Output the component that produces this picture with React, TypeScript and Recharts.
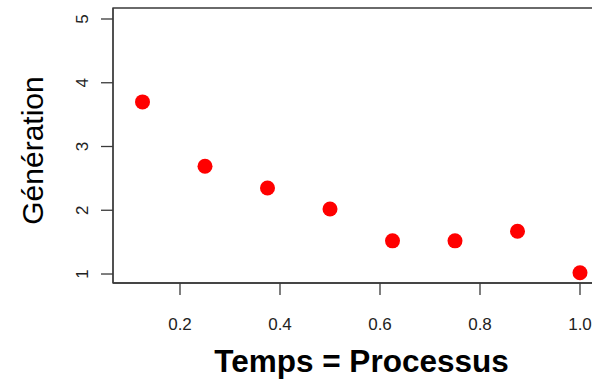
import React from "react";
import { ScatterChart, Scatter, XAxis, YAxis, ReferenceArea, Label } from "recharts";

const temps = [0.125, 0.25, 0.375, 0.5, 0.625, 0.75, 0.875, 1.0];
const generation = [3.7, 2.69, 2.35, 2.02, 1.52, 1.52, 1.67, 1.02];
const xTicks = [0.2, 0.4, 0.6, 0.8, 1.0];
const yTicks = [1, 2, 3, 4, 5];
const xDomain = [0.066, 1.06];
const yDomain = [0.859, 5.1725];

const data = temps.map((t, i) => ({ x: t, y: generation[i] }));

const axisColor = "#3a3a3a";
const font = "'Liberation Sans', Arial, sans-serif";

const XTick = (props: any) => {
  const { x, y, payload } = props;
  return (
    <text x={x} y={y + 35} textAnchor="middle" fontSize={17} fontFamily={font} fill="#222">
      {Number(payload.value).toFixed(1)}
    </text>
  );
};

const YTick = (props: any) => {
  const { x, y, payload } = props;
  const bx = x - 13;
  return (
    <text x={bx} y={y} textAnchor="middle" fontSize={17} fontFamily={font} fill="#222" transform={`rotate(-90, ${bx}, ${y})`}>
      {payload.value}
    </text>
  );
};

const Dot = (props: any) => {
  const { cx, cy } = props;
  return <circle cx={cx} cy={cy} r={7.5} fill="#ff0000" />;
};

const XTitle = (props: any) => {
  const { viewBox } = props;
  const cx = viewBox.x + viewBox.width / 2;
  return (
    <text x={cx} y={372} textAnchor="middle" fontSize={31.5} fontWeight="bold" fontFamily={font} fill="#000">
      Temps = Processus
    </text>
  );
};

const YTitle = (props: any) => {
  const { viewBox } = props;
  const cy = viewBox.y + viewBox.height / 2 + 5;
  const bx = 43;
  return (
    <text x={bx} y={cy} textAnchor="middle" fontSize={30} fontFamily={font} fill="#000" transform={`rotate(-90, ${bx}, ${cy})`}>
      Génération
    </text>
  );
};

export default function App() {
  return (
    <div style={{ position: "fixed", left: 0, top: 0, width: 592, height: 380, overflow: "hidden", background: "#fff" }}>
      <ScatterChart width={620} height={380} margin={{ top: 8, right: 10, bottom: 0, left: 0 }}>
        <XAxis
          type="number"
          dataKey="x"
          domain={xDomain}
          ticks={xTicks}
          allowDataOverflow
          height={97}
          tickSize={12}
          tickMargin={0}
          tick={<XTick />}
          axisLine={{ stroke: axisColor, strokeWidth: 1.3 }}
          tickLine={{ stroke: axisColor, strokeWidth: 1.3 }}
        >
          <Label content={<XTitle />} />
        </XAxis>
        <YAxis
          type="number"
          dataKey="y"
          domain={yDomain}
          ticks={yTicks}
          allowDataOverflow
          width={113}
          tickSize={12}
          tickMargin={0}
          tick={<YTick />}
          axisLine={{ stroke: axisColor, strokeWidth: 1.3 }}
          tickLine={{ stroke: axisColor, strokeWidth: 1.3 }}
        >
          <Label content={<YTitle />} />
        </YAxis>
        <ReferenceArea x1={xDomain[0]} x2={xDomain[1]} y1={yDomain[0]} y2={yDomain[1]} fill="none" fillOpacity={0} stroke={axisColor} strokeWidth={1.3} strokeOpacity={1} />
        <Scatter data={data} shape={<Dot />} isAnimationActive={false} />
      </ScatterChart>
    </div>
  );
}
